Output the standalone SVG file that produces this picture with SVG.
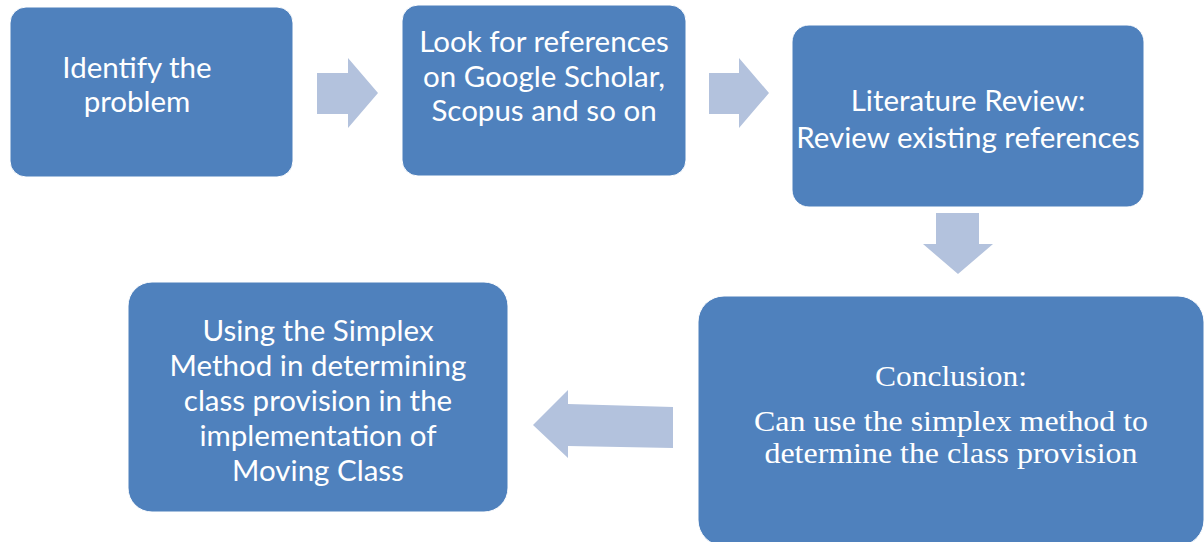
<svg xmlns="http://www.w3.org/2000/svg" width="1204" height="542" viewBox="0 0 1204 542">
<style>
.box{fill:#4F81BD;stroke:#ffffff;stroke-width:1}
.arr{fill:#B3C2DD}
.t{fill:#ffffff;font-family:Lato,"Liberation Sans",sans-serif;font-size:29.5px;text-anchor:middle}
.s{fill:#ffffff;font-family:"Liberation Serif",serif;font-size:30px;text-anchor:middle}
</style>
<rect width="1204" height="542" fill="#ffffff"/>
<g id="connectors">
<polygon class="arr" points="317,73 348,73 348,58 378,93 348,128 348,114 317,114"/>
<polygon class="arr" points="709,73 739,73 739,58 769,93 739,128 739,114 709,114"/>
<polygon class="arr" points="936,213 979,213 979,244 993,244 958,274 923,244 936,244"/>
<polygon class="arr" points="673,407 568,404 568,390 533,425 568,458 568,446 673,448"/>
</g>
<g id="n1">
<rect class="box" x="10" y="7" width="283" height="170" rx="16"/>
<text class="t" x="137" y="78">Identify the</text>
<text class="t" x="137" y="112">problem</text>
</g>
<g id="n2">
<rect class="box" x="402" y="5" width="284" height="171" rx="16"/>
<text class="t" x="544" y="52">Look for references</text>
<text class="t" x="544" y="87">on Google Scholar,</text>
<text class="t" x="544" y="121">Scopus and so on</text>
</g>
<g id="n3">
<rect class="box" x="792" y="25" width="352" height="182" rx="17"/>
<text class="t" x="968" y="111">Literature Review:</text>
<text class="t" x="968" y="148">Review existing references</text>
</g>
<g id="n4">
<rect class="box" x="698" y="296" width="506" height="250" rx="26"/>
<text class="s" x="951" y="386" textLength="152" lengthAdjust="spacingAndGlyphs">Conclusion:</text>
<text class="s" x="951" y="431" textLength="394" lengthAdjust="spacingAndGlyphs">Can use the simplex method to</text>
<text class="s" x="951" y="463" textLength="373" lengthAdjust="spacingAndGlyphs">determine the class provision</text>
</g>
<g id="n5">
<rect class="box" x="128" y="282" width="380" height="230" rx="24"/>
<text class="t" x="318" y="341">Using the Simplex</text>
<text class="t" x="318" y="376">Method in determining</text>
<text class="t" x="318" y="411">class provision in the</text>
<text class="t" x="318" y="446">implementation of</text>
<text class="t" x="318" y="481">Moving Class</text>
</g>
</svg>
